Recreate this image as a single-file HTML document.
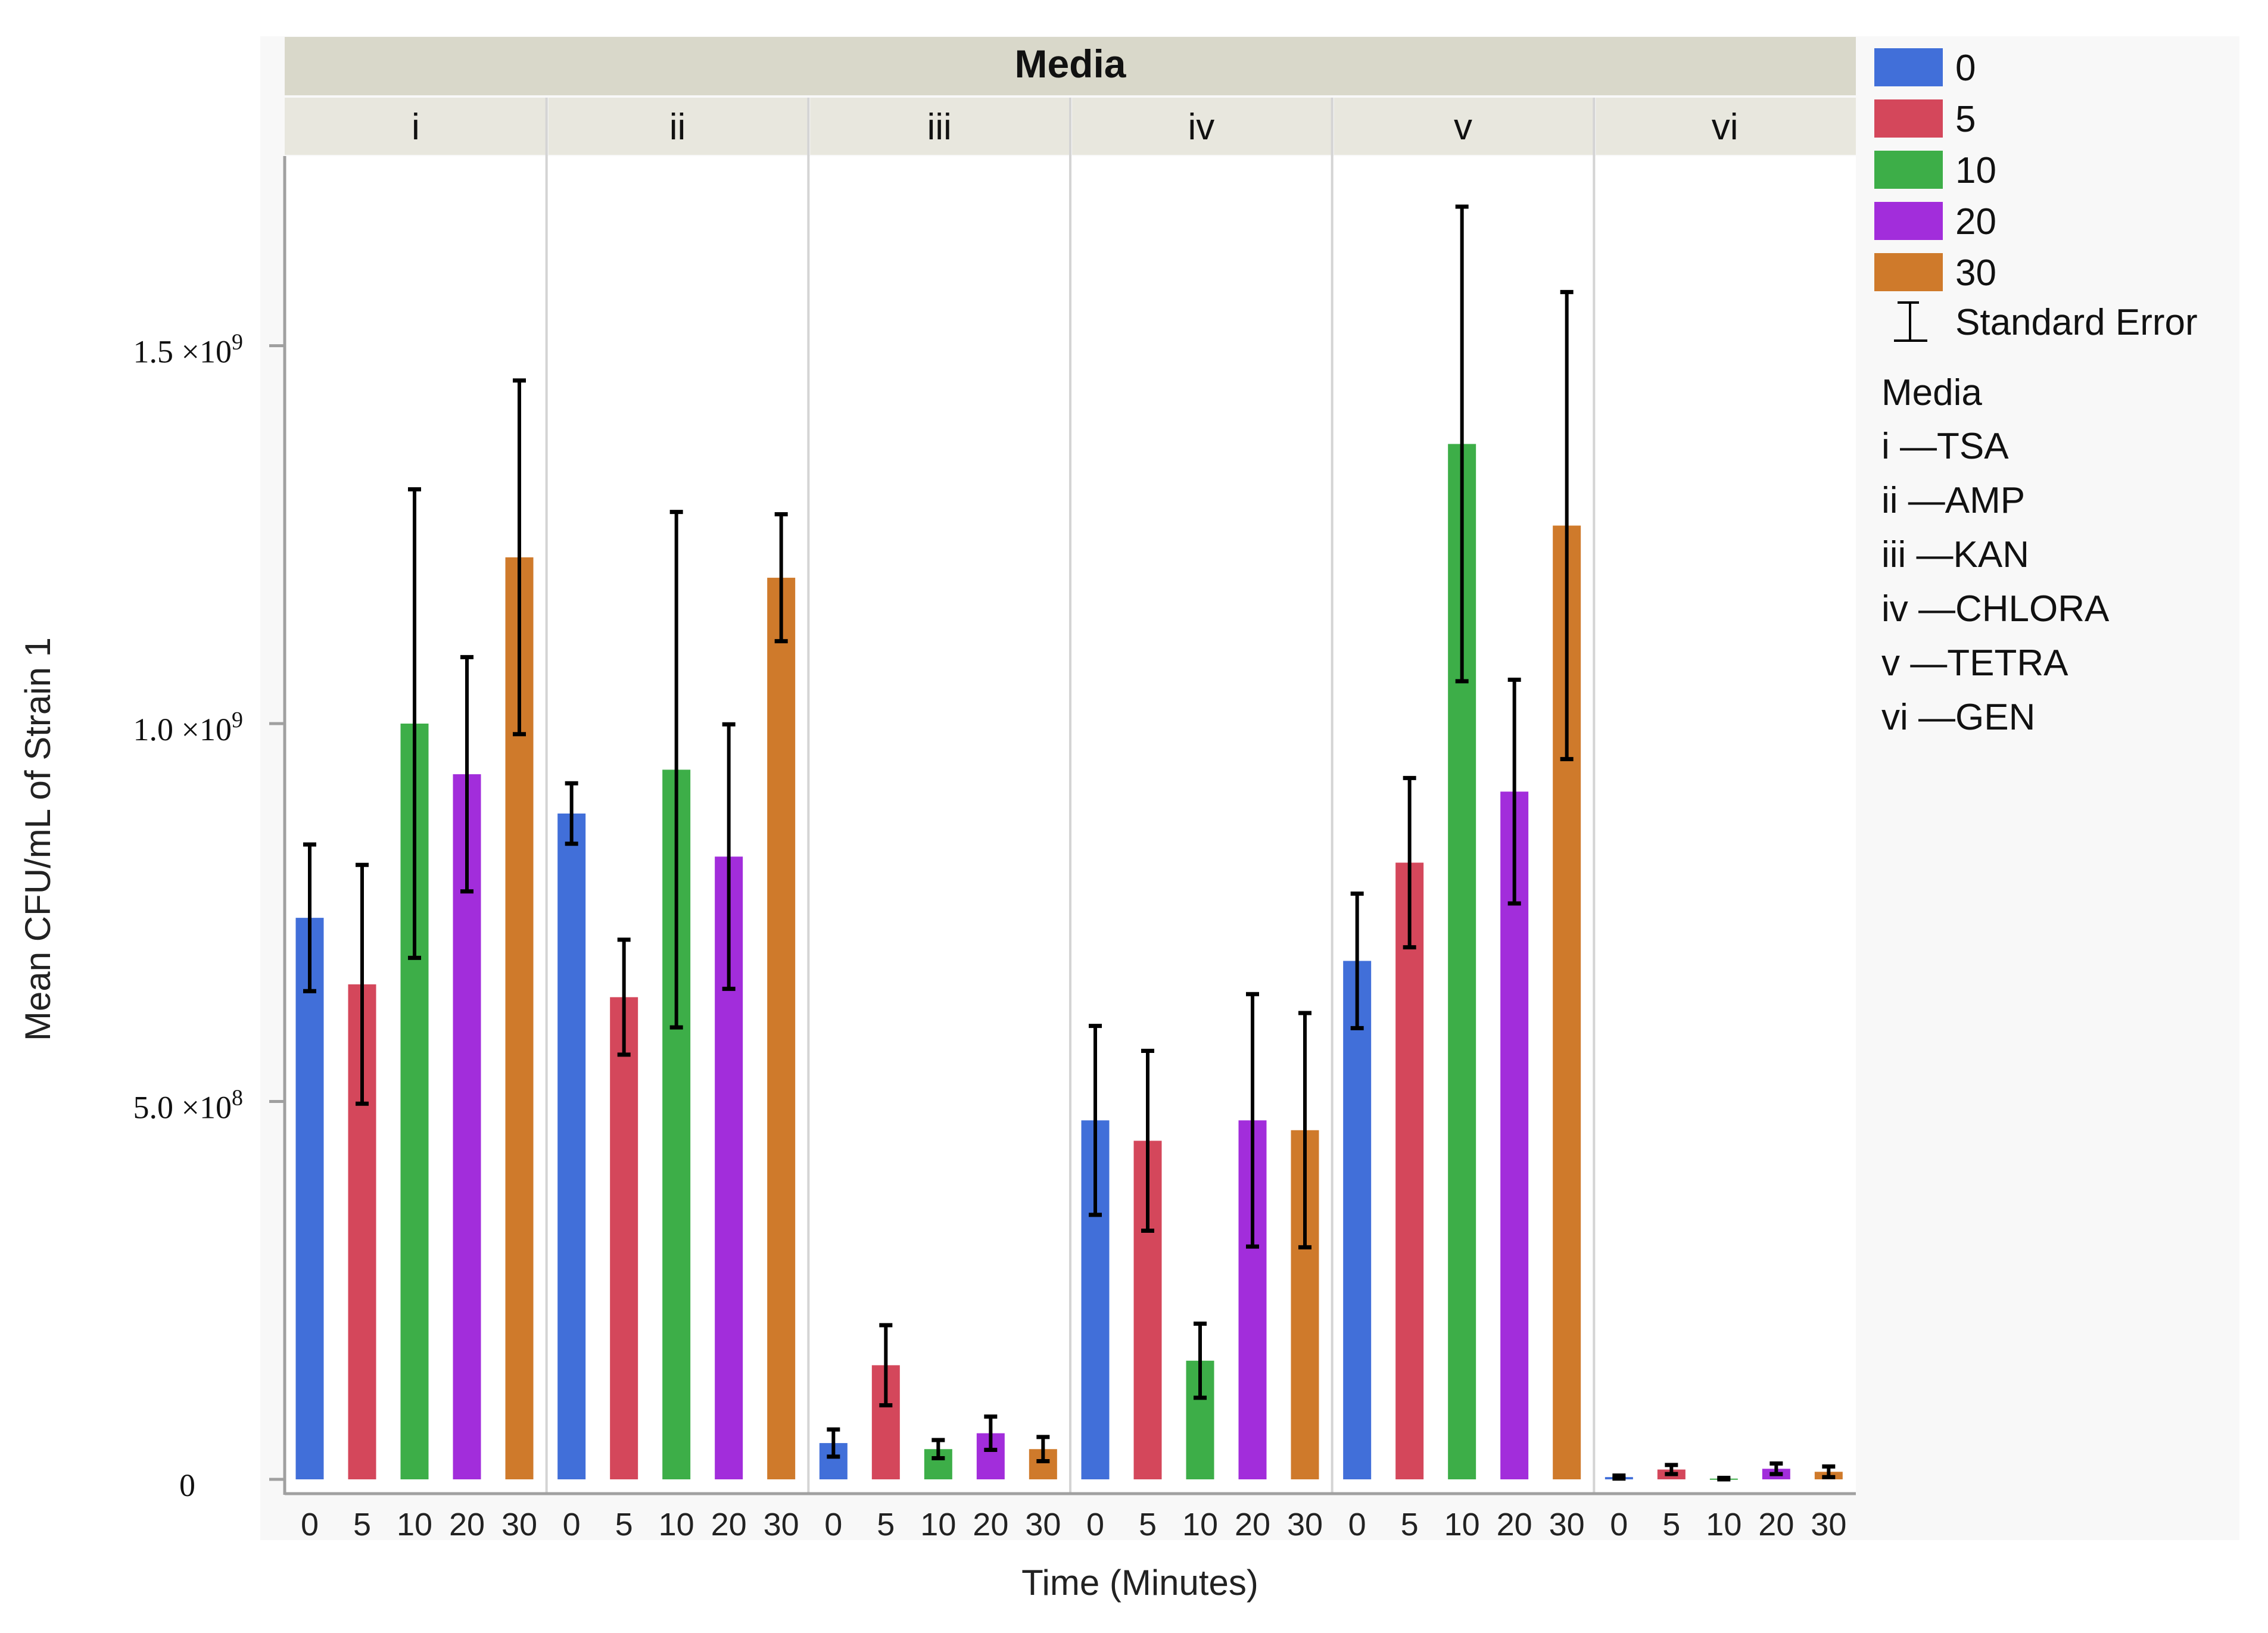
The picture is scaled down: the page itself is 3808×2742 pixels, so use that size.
<!DOCTYPE html>
<html><head><meta charset="utf-8"><style>
html,body{margin:0;padding:0;background:#fff;}
svg{display:block;font-family:"Liberation Sans",sans-serif;}
</style></head><body>
<svg id="chart" width="3808" height="2742" viewBox="0 0 3808 2742" xmlns="http://www.w3.org/2000/svg">
<rect x="437" y="61" width="3323" height="2525" fill="#f8f8f8"/>
<rect x="478" y="62" width="2638" height="98" fill="#d9d8ca"/>
<text x="1797" y="130" font-size="66" font-weight="bold" text-anchor="middle" fill="#111">Media</text>
<g id="strips"></g>
<rect x="478" y="262" width="2638" height="2246" fill="#fff"/>
<g id="grid"></g>
<g id="bars"></g>
<g id="yaxis"></g>
<line x1="478" y1="2508" x2="3116" y2="2508" stroke="#a0a0a0" stroke-width="5"/>
<line x1="478" y1="262" x2="478" y2="2510" stroke="#a0a0a0" stroke-width="5"/>
<g id="xticks"></g>
<text x="1914" y="2678" font-size="60" text-anchor="middle" fill="#222">Time (Minutes)</text>
<text transform="translate(84,1409) rotate(-90)" font-size="60" text-anchor="middle" fill="#222">Mean CFU/mL of Strain 1</text>
<g id="legend"></g>
</svg>
<script>
const media = ["i","ii","iii","iv","v","vi"];
const mediaNames = ["TSA","AMP","KAN","CHLORA","TETRA","GEN"];
const times = ["0","5","10","20","30"];
const colors = ["#416fd9","#d4475b","#3dae48","#a22ddb","#cf7a2b"];
// mean values (x1e9) per media, per time
const meanI   = [0.743, 0.655, 1.000, 0.933, 1.220];
const meanII  = [0.881, 0.638, 0.939, 0.824, 1.193];
const meanIII = [0.048, 0.151, 0.040, 0.061, 0.040];
const meanIV  = [0.475, 0.448, 0.157, 0.475, 0.462];
const meanV   = [0.686, 0.816, 1.370, 0.910, 1.262];
const meanVI  = [0.003, 0.013, 0.001, 0.014, 0.010];
// standard errors (x1e9)
const seI   = [0.097, 0.158, 0.310, 0.155, 0.234];
const seII  = [0.040, 0.076, 0.341, 0.175, 0.084];
const seIII = [0.018, 0.053, 0.012, 0.022, 0.016];
const seIV  = [0.125, 0.119, 0.049, 0.167, 0.155];
const seV   = [0.089, 0.112, 0.314, 0.148, 0.309];
const seVI  = [0.002, 0.006, 0.001, 0.007, 0.007];
const yTickVals = [0, 0.5, 1.0, 1.5];
const yTickMant = ["0", "5.0", "1.0", "1.5"];
const yTickExp  = ["", "8", "9", "9"];

const means = [meanI, meanII, meanIII, meanIV, meanV, meanVI];
const ses = [seI, seII, seIII, seIV, seV, seVI];
const NS = "http://www.w3.org/2000/svg";
const plotL = 478, plotR = 3116, y0 = 2484, pxPer = 1269;
const panelW = (plotR - plotL) / media.length;
function yScale(v){ return y0 - v * pxPer; }
function xPanel(p){ return plotL + p * panelW; }
function xBar(p, k){ return xPanel(p) + 42 + k * 88; }
function mk(tag, attrs, parent, txt){
  const e = document.createElementNS(NS, tag);
  for (const k in attrs) e.setAttribute(k, attrs[k]);
  if (txt !== undefined) e.textContent = txt;
  parent.appendChild(e); return e;
}
const strips = document.getElementById('strips');
const grid = document.getElementById('grid');
const bars = document.getElementById('bars');
const yaxis = document.getElementById('yaxis');
const xticks = document.getElementById('xticks');
const legend = document.getElementById('legend');

media.forEach((m, p) => {
  const s = mk('rect', {x: xPanel(p) + (p ? 3 : 0), y: 164, width: panelW - (p ? 3 : 0), height: 96, fill: '#e8e7de'}, strips);
  
  
  const t = mk('text', {x: xPanel(p) + panelW / 2, y: 234, 'font-size': 62, 'text-anchor': 'middle', fill: '#111'}, strips, m);
  
  
  if (p > 0) {
    const l = mk('line', {x1: xPanel(p), y1: 164, x2: xPanel(p), y2: 2508, stroke: '#d4d4d4', 'stroke-width': 4}, grid);
    
    
  }
  times.forEach((tm, k) => {
    const v = means[p][k], se = ses[p][k];
    const cx = xBar(p, k), w = 47;
    const top = yScale(v);
    const r = mk('rect', {x: cx - w / 2, y: top, width: w, height: Math.max(y0 - top, 2), fill: colors[k]}, bars);
    
    
    const hi = yScale(v + se), lo = yScale(Math.max(v - se, 0));
    const g = mk('g', {stroke: '#000', 'stroke-width': 6}, bars);
    
    
    mk('line', {x1: cx, y1: hi, x2: cx, y2: lo}, g);
    mk('line', {x1: cx - 11, y1: hi, x2: cx + 11, y2: hi, 'stroke-width': 7}, g);
    mk('line', {x1: cx - 11, y1: lo, x2: cx + 11, y2: lo, 'stroke-width': 7}, g);
    const xt = mk('text', {x: cx, y: 2578, 'font-size': 54, 'text-anchor': 'middle', fill: '#222'}, xticks, tm);
    
    
  });
});
yTickVals.forEach((v, i) => {
  const y = yScale(v);
  const tk = mk('line', {x1: 452, y1: y, x2: 478, y2: y, stroke: '#a0a0a0', 'stroke-width': 5}, yaxis);
  
  
  const t = mk('text', {x: yTickExp[i] ? 408 : 328, y: y + 28, 'font-size': 54, 'text-anchor': 'end', 'font-family': '"Liberation Serif",serif', fill: '#111'}, yaxis);
  
  
  if (yTickExp[i]) {
    t.textContent = yTickMant[i] + ' \u00d710';
    mk('tspan', {dy: -22, 'font-size': 38}, t, yTickExp[i]);
  } else {
    t.textContent = yTickMant[i];
  }
});
// legend
times.forEach((tm, k) => {
  const y = 81 + k * 86;
  const r = mk('rect', {x: 3147, y: y, width: 115, height: 64, fill: colors[k]}, legend);
  
  
  const t = mk('text', {x: 3283, y: y + 54, 'font-size': 62, fill: '#111'}, legend, tm);
  
  
});
const eg = mk('g', {stroke: '#000', 'stroke-width': 4}, legend);


mk('line', {x1: 3207, y1: 508, x2: 3207, y2: 572}, eg);
mk('line', {x1: 3186, y1: 508, x2: 3222, y2: 508}, eg);
mk('line', {x1: 3180, y1: 572, x2: 3236, y2: 572}, eg);
const se = mk('text', {x: 3283, y: 562, 'font-size': 62, fill: '#111'}, legend, 'Standard Error');


const mt = mk('text', {x: 3159, y: 680, 'font-size': 62, fill: '#111'}, legend, 'Media');


media.forEach((m, i) => {
  const t = mk('text', {x: 3159, y: 770 + i * 91, 'font-size': 62, fill: '#111'}, legend, m + ' \u2014' + mediaNames[i]);
  
  
});
</script>
</body></html>
